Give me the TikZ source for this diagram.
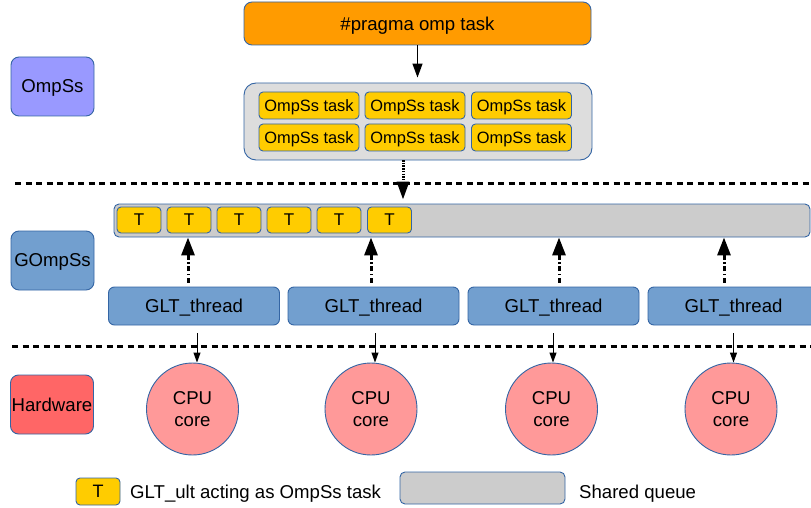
\documentclass[tikz,border=0pt]{standalone}
\usepackage{fontspec}
\setmainfont{Liberation Sans}
\usetikzlibrary{arrows.meta,calc}
\definecolor{bline}{HTML}{3465A4}
\definecolor{orng}{HTML}{FF9B00}
\definecolor{lgray}{HTML}{DDDDDD}
\definecolor{qgray}{HTML}{CCCCCC}
\definecolor{yel}{HTML}{FFCC00}
\definecolor{lblue}{HTML}{729FCF}
\definecolor{lav}{HTML}{9999FF}
\definecolor{hred}{HTML}{FF6666}
\definecolor{pink}{HTML}{FF9999}
\tikzset{
  x=1pt, y=-1pt,
  base/.style={draw=bline, line width=0.9pt, inner sep=0pt, align=center,
     font=\fontsize{18.6}{21}\selectfont},
  one/.style={text depth=0pt},
  labelbox/.style={base, one, rounded corners=8pt, minimum width=83pt, minimum height=59pt},
  taskbox/.style={base, one, fill=yel, rounded corners=4pt, minimum width=100pt, minimum height=27pt,
     font=\fontsize{16.4}{18}\selectfont},
  tbox/.style={base, one, fill=yel, rounded corners=4pt, minimum width=44pt, minimum height=26pt,
     font=\fontsize{17}{18}\selectfont},
  gltbox/.style={base, one, fill=lblue, rounded corners=6pt, minimum width=171pt, minimum height=38pt},
  cpu/.style={base, circle, fill=pink, minimum size=92pt, font=\fontsize{18.6}{22}\selectfont},
  sep/.style={line width=3pt, dash pattern=on 6pt off 4.5pt},
  thinarrow/.style={line width=1pt, -{Triangle[width=7pt,length=10pt]}},
  uparrow/.style={line width=3pt, dash pattern=on 5pt off 2.5pt on 1.5pt off 2.5pt,
     -{Triangle[width=13pt,length=18pt]}},
  dotarrow/.style={line width=3pt, dash pattern=on 1.5pt off 1.2pt,
     -{Triangle[width=12pt,length=18pt]}},
  plain/.style={inner sep=0pt, anchor=west, one, font=\fontsize{18.6}{21}\selectfont},
}
\begin{document}
\begin{tikzpicture}
\useasboundingbox (0,0) rectangle (811,508);
\clip (0,0) rectangle (811,508);
% layer labels
\node[labelbox, fill=lav] (lo) at (52.5,86.5) {OmpSs};
\node[labelbox, fill=lblue] (lg) at (52.5,260.5) {GOmpSs};
\node[labelbox, fill=hred] (lh) at (52,404.5) {Hardware};
% separators
\draw[sep] (15,183) -- (811,183);
\draw[sep] (12,346) -- (811,346);
% pragma and container
\node[base, one, fill=orng, rounded corners=8pt, minimum width=347pt, minimum height=43pt] (prag) at (417.5,23.5) {\#pragma omp task};
\node[base, fill=lgray, rounded corners=12pt, minimum width=348pt, minimum height=77pt] (cont) at (418,121.5) {};
\node[taskbox] (t11) at (309,105.5) {OmpSs task};
\node[taskbox] (t12) at (415,105.5) {OmpSs task};
\node[taskbox] (t13) at (521.5,105.5) {OmpSs task};
\node[taskbox] (t21) at (309,137.5) {OmpSs task};
\node[taskbox] (t22) at (415,137.5) {OmpSs task};
\node[taskbox] (t23) at (521.5,137.5) {OmpSs task};
\draw[line width=1.3pt, -{Triangle[width=10pt,length=14pt]}] (prag.south) -- ([yshift=5pt]cont.north -| prag.south);
% shared queue
\node[base, fill=qgray, rounded corners=5pt, minimum width=696pt, minimum height=33pt] (q) at (462,220.5) {};
\node[tbox] (T1) at (139,220) {T};
\node[tbox] (T2) at (189,220) {T};
\node[tbox] (T3) at (239,220) {T};
\node[tbox] (T4) at (289,220) {T};
\node[tbox] (T5) at (339,220) {T};
\node[tbox] (T6) at (389.5,220) {T};
\coordinate (dtop) at (403,160);
\draw[dotarrow] (dtop) -- ([yshift=4pt]dtop |- q.north);
% GLT threads
\node[gltbox] (g1) at (194,306) {GLT\_thread};
\node[gltbox] (g2) at (373.5,306) {GLT\_thread};
\node[gltbox] (g3) at (553.5,306) {GLT\_thread};
\node[gltbox] (g4) at (733.5,306) {GLT\_thread};
\draw[uparrow] ([xshift=-6pt,yshift=4pt]g1.north) -- ([xshift=-6pt]g1.north |- q.south);
\draw[uparrow] ([xshift=-2.5pt,yshift=4pt]g2.north) -- ([xshift=-2.5pt]g2.north |- q.south);
\draw[uparrow] ([xshift=5.5pt,yshift=4pt]g3.north) -- ([xshift=5.5pt]g3.north |- q.south);
\draw[uparrow] ([xshift=-9.5pt,yshift=4pt]g4.north) -- ([xshift=-9.5pt]g4.north |- q.south);
% CPU cores
\node[cpu] (c1) at (192.5,409) {CPU\\core};
\node[cpu] (c2) at (371,409) {CPU\\core};
\node[cpu] (c3) at (551.5,409) {CPU\\core};
\node[cpu] (c4) at (731,409) {CPU\\core};
\draw[thinarrow] ([xshift=3pt,yshift=-8pt]g1.south) -- ([xshift=3pt]g1.south |- c1.north);
\draw[thinarrow] ([xshift=1.5pt,yshift=-8pt]g2.south) -- ([xshift=1.5pt]g2.south |- c2.north);
\draw[thinarrow] ([xshift=-0.5pt,yshift=-8pt]g3.south) -- ([xshift=-0.5pt]g3.south |- c3.north);
\draw[thinarrow] ([yshift=-8pt]g4.south) -- (g4.south |- c4.north);
% legend
\node[tbox, minimum height=27pt, font=\fontsize{18}{20}\selectfont] (lt) at (98,491.5) {T};
\node[plain] (ltx) at (130,492) {GLT\_ult acting as OmpSs task};
\node[base, fill=qgray, rounded corners=5pt, minimum width=165pt, minimum height=32pt] (lq) at (482.5,488) {};
\node[plain] (lqx) at (579,492) {Shared queue};
\end{tikzpicture}
\end{document}
